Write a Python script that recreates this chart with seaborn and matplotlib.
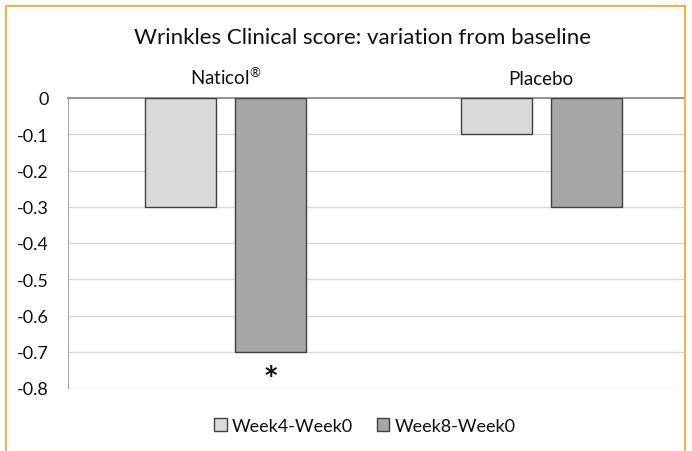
import pandas as pd
import matplotlib.pyplot as plt
import seaborn as sns
from matplotlib.patches import Rectangle

# Data
groups = ['Naticol®', 'Placebo']
periods = ['Week4-Week0', 'Week8-Week0']
week4 = [-0.3, -0.1]
week8 = [-0.7, -0.3]
y_ticks = [0, -0.1, -0.2, -0.3, -0.4, -0.5, -0.6, -0.7, -0.8]
y_labels = ['0', '-0.1', '-0.2', '-0.3', '-0.4', '-0.5', '-0.6', '-0.7', '-0.8']

df = pd.DataFrame({
    'group': groups * 2,
    'period': [periods[0]] * 2 + [periods[1]] * 2,
    'value': week4 + week8,
})

sns.set_style('white')
plt.rcParams['font.family'] = ['Lato', 'DejaVu Sans']
plt.rcParams['axes.unicode_minus'] = False
plt.rcParams['mathtext.fontset'] = 'custom'
plt.rcParams['mathtext.rm'] = 'Lato'
plt.rcParams['mathtext.default'] = 'regular'

fig = plt.figure(figsize=(6.92, 4.52), dpi=100)
ax = fig.add_axes([68 / 692, 1 - 389 / 452, 617 / 692, 290 / 452])

sns.barplot(data=df, x='group', y='value', hue='period', order=groups,
            hue_order=periods, palette=['#D9D9D9', '#A6A6A6'],
            width=0.57, gap=0.21, edgecolor='#404040', linewidth=1.0,
            errorbar=None, ax=ax, zorder=3)

ax.set_ylim(-0.8, 0)
ax.set_xlim(-0.5, 1.456)
ax.set_yticks(y_ticks)
ax.set_yticklabels(y_labels, fontsize=13, color='#111111')
ax.yaxis.grid(True, color='#D9D9D9', linewidth=1.0, zorder=0)
ax.set_axisbelow(True)

# category labels sit above the zero line, ® drawn small and raised
ax.xaxis.tick_top()
ax.set_xticks(range(len(groups)))
ax.set_xticklabels([g.replace('®', '$^{®}$') for g in groups], fontsize=13.5,
                   color='#111111')
ax.tick_params(axis='both', length=0)
ax.tick_params(axis='x', pad=8)
ax.tick_params(axis='y', pad=14)
ax.set_xlabel('')
ax.set_ylabel('')

for side in ['right', 'bottom']:
    ax.spines[side].set_visible(False)
ax.spines['left'].set_color('#A6A6A6')
ax.spines['top'].set_color('#8C8C8C')
ax.spines['top'].set_linewidth(1.3)

# significance mark under the Naticol week 8 bar
bar = ax.containers[1][0]
ax.text(bar.get_x() + bar.get_width() / 2, -0.763, '*', ha='center', va='center',
        fontsize=17, fontweight='bold', color='#111111', family='DejaVu Sans')

fig.text(363 / 692, 1 - 38 / 452, 'Wrinkles Clinical score: variation from baseline',
         ha='center', va='center', fontsize=16, color='#111111')

handles, labels = ax.get_legend_handles_labels()
ax.legend(handles, labels, loc='center', ncol=2, frameon=False,
          bbox_to_anchor=(365 / 692, 1 - 427 / 452), bbox_transform=fig.transFigure,
          fontsize=13, handlelength=0.7, handleheight=0.7, handletextpad=0.3,
          columnspacing=1.3, labelcolor='#111111')

fig.patches.append(Rectangle((6 / 692, -0.1), 679 / 692, 1 - 7 / 452 + 0.1,
                             transform=fig.transFigure, fill=False,
                             edgecolor='#F7B534', linewidth=1.5))

plt.savefig('out.png', dpi=100)
plt.close('all')
